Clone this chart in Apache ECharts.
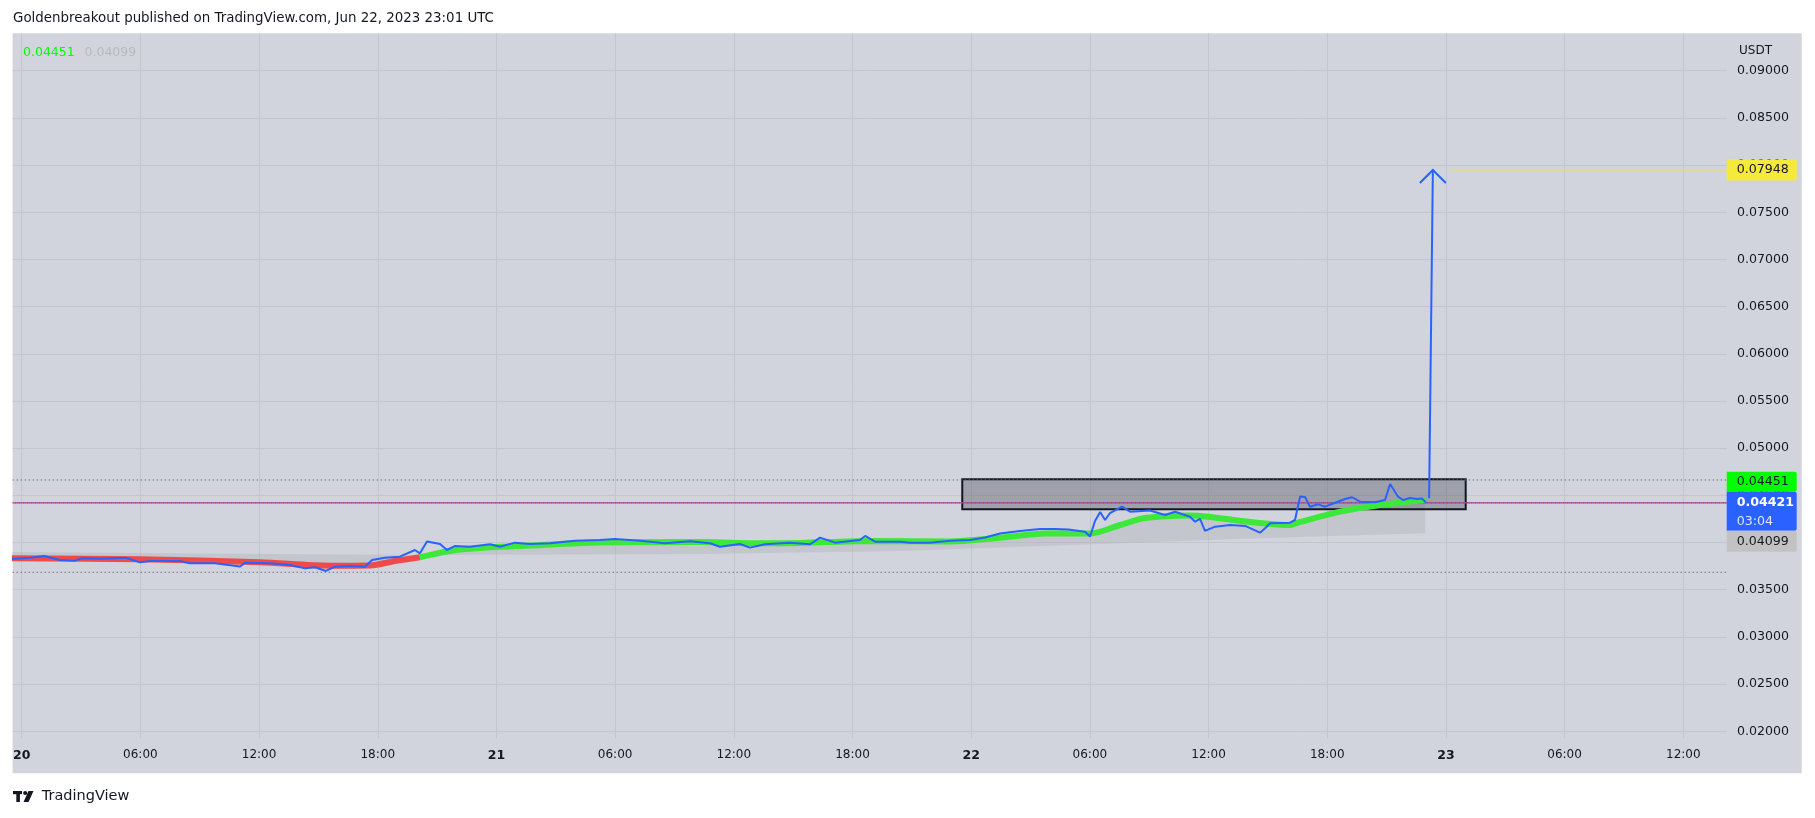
<!DOCTYPE html>
<html>
<head>
<meta charset="utf-8">
<script src="https://cdn.jsdelivr.net/npm/echarts@6.0.0/dist/echarts.min.js"></script>
<style>
html,body{margin:0;padding:0;background:#ffffff;}
#chart{width:1815px;height:818px;}
</style>
</head>
<body>
<div id="chart"></div>
<script>
// time in hours since 20 Jun 2023 00:00 UTC, prices in USDT
const priceHours = [-0.49,0.42,1.13,1.94,2.69,3.05,3.96,5.22,5.98,6.49,8.00,8.51,9.77,11.04,11.29,12.55,13.56,14.32,14.83,15.38,15.84,16.60,17.36,17.71,18.37,19.12,19.88,20.13,20.49,21.15,21.50,21.91,22.66,23.68,24.18,24.94,25.70,26.71,27.97,29.23,29.99,31.26,32.52,33.79,34.80,35.30,36.31,36.82,37.58,38.84,39.86,40.36,41.12,42.38,42.64,43.14,44.40,44.91,45.92,46.93,47.94,48.70,49.46,50.47,51.48,52.24,52.90,53.76,54.01,54.26,54.52,54.77,55.02,55.62,56.03,57.04,57.80,58.31,59.06,59.32,59.57,59.82,60.33,61.09,61.85,62.60,62.86,63.11,64.12,64.37,64.63,64.88,65.13,65.54,65.89,66.40,66.90,67.26,67.66,68.42,68.92,69.18,69.58,69.83,70.19,70.54,70.79,71.00];
const priceValues = [0.03826,0.03840,0.03858,0.03815,0.03808,0.03833,0.03829,0.03840,0.03791,0.03805,0.03805,0.03780,0.03780,0.03746,0.03787,0.03780,0.03762,0.03727,0.03738,0.03699,0.03744,0.03752,0.03744,0.03815,0.03840,0.03850,0.03921,0.03886,0.04011,0.03985,0.03921,0.03964,0.03956,0.03982,0.03956,0.03999,0.03985,0.03992,0.04020,0.04027,0.04038,0.04020,0.03992,0.04013,0.03992,0.03956,0.03985,0.03946,0.03982,0.03999,0.03982,0.04052,0.03999,0.04027,0.04070,0.04009,0.04009,0.03999,0.03999,0.04020,0.04027,0.04054,0.04096,0.04123,0.04144,0.04144,0.04138,0.04115,0.04064,0.04228,0.04324,0.04239,0.04313,0.04380,0.04327,0.04340,0.04292,0.04327,0.04274,0.04221,0.04250,0.04123,0.04168,0.04186,0.04176,0.04105,0.04151,0.04204,0.04211,0.04239,0.04488,0.04483,0.04380,0.04405,0.04380,0.04422,0.04462,0.04480,0.04433,0.04427,0.04451,0.04620,0.04486,0.04451,0.04472,0.04462,0.04467,0.04421];

const maHours = [-0.49,5.98,12.05,15.59,17.61,18.87,20.13,21.96,24.18,25.19,29.23,34.29,37.32,39.35,42.89,46.93,49.46,51.99,54.01,55.53,56.79,59.06,62.10,64.12,64.63,66.65,68.67,70.95];
const maValues = [0.03833,0.03823,0.03791,0.03755,0.03757,0.03805,0.03844,0.03921,0.03956,0.03964,0.04001,0.04006,0.03992,0.03995,0.04017,0.04011,0.04052,0.04098,0.04096,0.04186,0.04260,0.04287,0.04218,0.04186,0.04218,0.04327,0.04398,0.04451];
const maTurnHour = 20.13;

const slowHours = [-0.49,9.0,20.13,34.3,44.4,54.5,62.1,70.95];
const slowValues = [0.03900,0.03884,0.03868,0.03879,0.03911,0.03985,0.04043,0.04099];

const zoneHours = [47.55, 73.0];
const zonePrices = [0.04352, 0.04670];
const arrowHours = [71.15, 71.34];
const arrowPrices = [0.04469, 0.07948];
const targetStartHour = 72.3;
const targetPrice = 0.07948;
const lastPrice = 0.04421;
const countdownText = '03:04';
const maLastValue = 0.04451;
const slowLastValue = 0.04099;
const rangeHigh = 0.04663;
const rangeLow = 0.03685;

const xMin = -0.46, xMax = 86.21, yMin = 0.01929, yMax = 0.09396;
const dayLabels = ['20','21','22','23'];

const titleText = 'Goldenbreakout published on TradingView.com, Jun 22, 2023 23:01 UTC';
const currencyText = 'USDT';

const FONT = 'DejaVu Sans';
const TXT = '#131722';

const pricePoints = priceHours.map((h,i)=>[h, priceValues[i]]);
const maPoints = maHours.map((h,i)=>[h, maValues[i]]);
const redPoints = maPoints.filter(p=>p[0] <= maTurnHour);
const greenPoints = maPoints.filter(p=>p[0] >= maTurnHour);
const hLine = v => [[xMin, v], [xMax, v]];

const chart = echarts.init(document.getElementById('chart'), null, {renderer:'canvas'});

function dotted(v, color, dash, offset, z, w){
  return {type:'line', data: hLine(v), showSymbol:false, silent:true, z: z,
    lineStyle:{color: color, width: w || 1, type: dash, dashOffset: offset || 0}};
}

const option = {
  animation: false,
  backgroundColor: '#ffffff',
  grid: {left: 12.6, right: 88, top: 33.3, bottom: 80, containLabel: false},
  xAxis: {
    type: 'value', min: xMin, max: xMax, minInterval: 6, maxInterval: 6, splitNumber: 14,
    axisLine: {show: false}, axisTick: {show: false},
    splitLine: {show: true, showMinLine: false, showMaxLine: false, lineStyle: {color: '#c3c6ce', width: 1}},
    axisLabel: {
      showMinLabel: false, showMaxLabel: false, margin: 11,
      color: TXT, fontFamily: FONT, fontSize: 12,
      formatter: function(v){
        const h = Math.round(v);
        if (h % 24 === 0) return '{d|' + dayLabels[h/24] + '}';
        return String(h % 24).padStart(2,'0') + ':00';
      },
      rich: {d: {fontWeight: 'bold', color: TXT, fontFamily: FONT, fontSize: 12.5}}
    }
  },
  yAxis: {
    type: 'value', position: 'right', min: yMin, max: yMax, minInterval: 0.005, maxInterval: 0.005, splitNumber: 15,
    axisLine: {show: false}, axisTick: {show: false},
    splitLine: {show: true, showMinLine: false, showMaxLine: false, lineStyle: {color: '#c3c6ce', width: 1}},
    axisLabel: {
      showMinLabel: false, showMaxLabel: false, margin: 10,
      color: TXT, fontFamily: FONT, fontSize: 12.6,
      formatter: v => v.toFixed(5)
    }
  },
  series: [
    { // filled band between fast and slow averages
      type: 'custom', silent: true, z: 1, data: [[0, 0.04]],
      renderItem: function(params, api){
        const pts = [];
        maHours.forEach((h,i)=>pts.push(api.coord([h, maValues[i]])));
        for (let i = slowHours.length-1; i >= 0; i--) pts.push(api.coord([slowHours[i], slowValues[i]]));
        return {type:'polygon', shape:{points: pts}, style:{fill:'rgba(175,177,182,0.38)'}};
      }
    },
    { // zone rectangle
      type: 'custom', silent: true, z: 2, data: [[zoneHours[0], zonePrices[0]]],
      renderItem: function(params, api){
        const a = api.coord([zoneHours[0], zonePrices[1]]);
        const b = api.coord([zoneHours[1], zonePrices[0]]);
        return {type:'rect', shape:{x:a[0], y:a[1], width:b[0]-a[0], height:b[1]-a[1]},
          style:{fill:'rgba(95,97,110,0.45)', stroke:'#131722', lineWidth:2}};
      }
    },
    dotted(rangeHigh, '#6f727c', [1.5, 2.5], 0, 2, 1),
    dotted(rangeLow, '#6f727c', [1.5, 2.5], 0, 2, 1),
    dotted(lastPrice, '#2962ff', [2, 2], 2, 2, 1.5),
    dotted(lastPrice, '#f23645', [2, 2], 0, 2, 1.5),
    {
      type: 'line', data: redPoints, showSymbol: false, smooth: 0.3, silent: true, z: 3,
      lineStyle: {color: '#f23f3f', width: 6, opacity: 0.92}
    },
    {
      type: 'line', data: greenPoints, showSymbol: false, smooth: 0.3, silent: true, z: 3,
      lineStyle: {color: '#3ee83a', width: 6}
    },
    {
      type: 'line', data: pricePoints, showSymbol: false, silent: true, z: 5,
      lineStyle: {color: '#2962ff', width: 2}
    },
    {
      type: 'line', data: [[targetStartHour, targetPrice], [xMax, targetPrice]], showSymbol: false, silent: true, z: 4,
      lineStyle: {color: '#f2e23a', width: 1}
    },
    { // projection arrow
      type: 'custom', silent: true, z: 6, data: [[arrowHours[0], arrowPrices[0]]],
      renderItem: function(params, api){
        const p0 = api.coord([arrowHours[0], arrowPrices[0]]);
        const p1 = api.coord([arrowHours[1], arrowPrices[1]]);
        return {type:'group', children:[
          {type:'line', shape:{x1:p0[0], y1:p0[1], x2:p1[0], y2:p1[1]}, style:{stroke:'#2962ff', lineWidth:2}},
          {type:'polyline', shape:{points:[[p1[0]-13, p1[1]+13],[p1[0], p1[1]],[p1[0]+13, p1[1]+13]]}, style:{stroke:'#2962ff', lineWidth:2, fill:null}}
        ]};
      }
    }
  ]
};
chart.setOption(option);

const yOf = v => chart.convertToPixel({gridIndex: 0}, [0, v])[1];
const axisX = 1726.7, labW = 70;
const yTarget = yOf(targetPrice);
const yLast = yOf(lastPrice);
const blueTop = yLast - 11, blueBot = blueTop + 39;
const LF = '12.6px "DejaVu Sans"';
const graphics = [
  {type:'rect', z:-10, shape:{x:12.6, y:33.3, width:1789.1, height:740}, style:{fill:'#d1d4dc'}},
  {type:'text', z:50, x:13, y:18.5, style:{text:titleText, fill:TXT, font:'13.4px "DejaVu Sans"', textVerticalAlign:'middle'}},
  {type:'text', z:50, x:23, y:53, style:{text:maLastValue.toFixed(5), fill:'#00ff00', font:'12.5px "DejaVu Sans"', textVerticalAlign:'middle'}},
  {type:'text', z:50, x:84.5, y:53, style:{text:slowLastValue.toFixed(5), fill:'#b8bac0', font:'12.5px "DejaVu Sans"', textVerticalAlign:'middle'}},
  {type:'text', z:50, x:1739, y:50.7, style:{text:currencyText, fill:TXT, font:'12px "DejaVu Sans"', textVerticalAlign:'middle'}},
  // target label
  {type:'rect', z:60, shape:{x:axisX, y:yTarget-10.5, width:labW, height:21, r:[0,2,2,0]}, style:{fill:'#f5ea3c'}},
  {type:'text', z:61, x:1736.7, y:yTarget, style:{text:targetPrice.toFixed(5), fill:TXT, font:LF, textVerticalAlign:'middle'}},
  // fast average label (stacked above)
  {type:'rect', z:60, shape:{x:axisX, y:blueTop-20, width:labW, height:20, r:[0,2,2,0]}, style:{fill:'#00ff00'}},
  {type:'text', z:61, x:1736.7, y:blueTop-10, style:{text:maLastValue.toFixed(5), fill:TXT, font:LF, textVerticalAlign:'middle'}},
  // last price label
  {type:'rect', z:60, shape:{x:axisX, y:blueTop, width:labW, height:39, r:[0,2,2,0]}, style:{fill:'#2962ff'}},
  {type:'text', z:61, x:1736.7, y:yLast, style:{text:lastPrice.toFixed(5), fill:'#ffffff', font:'bold ' + LF, textVerticalAlign:'middle'}},
  {type:'text', z:61, x:1736.7, y:yLast+19, style:{text:countdownText, fill:'rgba(255,255,255,0.85)', font:LF, textVerticalAlign:'middle'}},
  // slow average label (stacked below)
  {type:'rect', z:60, shape:{x:axisX, y:blueBot, width:labW, height:21, r:[0,2,2,0]}, style:{fill:'#c2c2c2'}},
  {type:'text', z:61, x:1736.7, y:blueBot+10.5, style:{text:slowLastValue.toFixed(5), fill:TXT, font:LF, textVerticalAlign:'middle'}},
  // TradingView logo + name
  {type:'rect', z:50, shape:{x:13, y:791, width:9, height:3.2}, style:{fill:TXT}},
  {type:'rect', z:50, shape:{x:16.3, y:791, width:3.6, height:11}, style:{fill:TXT}},
  {type:'circle', z:50, shape:{cx:25.2, cy:793, r:2.1}, style:{fill:TXT}},
  {type:'polygon', z:50, shape:{points:[[28.5,791],[33.5,791],[28.5,802],[23.5,802]]}, style:{fill:TXT}},
  {type:'text', z:50, x:41.7, y:796.5, style:{text:'TradingView', fill:TXT, font:'14.5px "DejaVu Sans"', textVerticalAlign:'middle'}}
];
chart.setOption({graphic: graphics});
</script>
</body>
</html>
